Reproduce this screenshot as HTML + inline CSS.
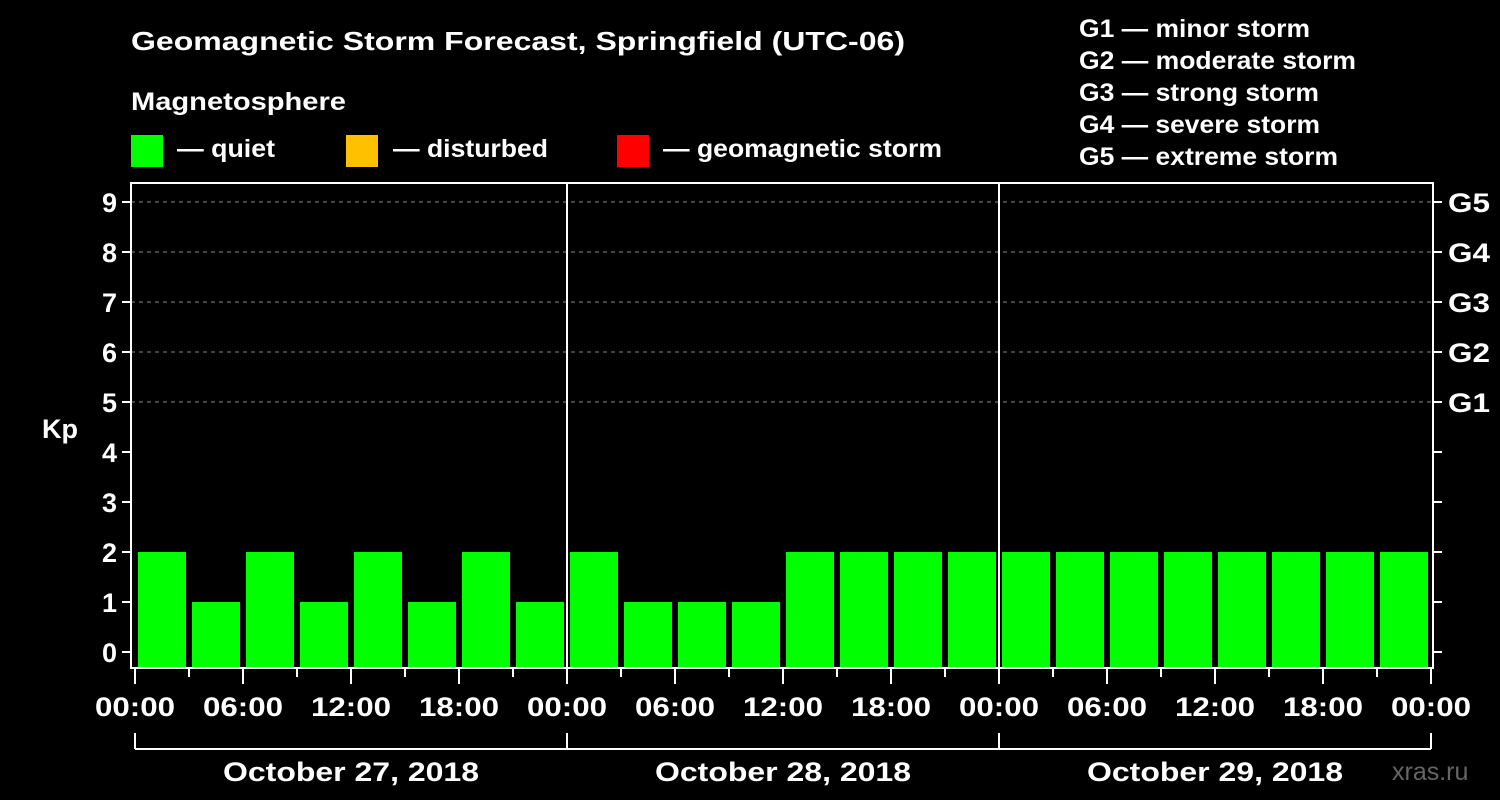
<!DOCTYPE html>
<html><head><meta charset="utf-8"><style>
html,body{margin:0;padding:0;background:#000;}
svg{display:block;font-family:"Liberation Sans",Arial,sans-serif;font-weight:bold;}
</style></head><body>
<svg id="chart" width="1500" height="800" viewBox="0 0 1500 800" xmlns="http://www.w3.org/2000/svg">
<rect width="1500" height="800" fill="#000"/>
<text x="131" y="50" fill="#fff" font-size="26" textLength="774" lengthAdjust="spacingAndGlyphs">Geomagnetic Storm Forecast, Springfield (UTC-06)</text>
<text x="131" y="110" fill="#fff" font-size="25" textLength="215" lengthAdjust="spacingAndGlyphs">Magnetosphere</text>
<g>
<rect x="131" y="135" width="32" height="32" fill="#00ff00"/>
<text x="177" y="157" fill="#fff" font-size="25" textLength="98" lengthAdjust="spacingAndGlyphs">— quiet</text>
<rect x="346" y="135" width="32" height="32" fill="#ffc000"/>
<text x="393" y="157" fill="#fff" font-size="25" textLength="155" lengthAdjust="spacingAndGlyphs">— disturbed</text>
<rect x="617" y="135" width="32" height="32" fill="#ff0000"/>
<text x="663" y="157" fill="#fff" font-size="25" textLength="279" lengthAdjust="spacingAndGlyphs">— geomagnetic storm</text>
</g>
<g fill="#fff" font-size="25">
<text x="1079" y="37" textLength="231" lengthAdjust="spacingAndGlyphs">G1 — minor storm</text>
<text x="1079" y="69" textLength="277" lengthAdjust="spacingAndGlyphs">G2 — moderate storm</text>
<text x="1079" y="101" textLength="240" lengthAdjust="spacingAndGlyphs">G3 — strong storm</text>
<text x="1079" y="133" textLength="241" lengthAdjust="spacingAndGlyphs">G4 — severe storm</text>
<text x="1079" y="165" textLength="259" lengthAdjust="spacingAndGlyphs">G5 — extreme storm</text>
</g>
<text x="42" y="438" fill="#fff" font-size="27">Kp</text>
<g id="grid"></g><g id="bars"></g><g id="axes"></g>
<text x="1392" y="780" fill="#666" font-size="25" font-weight="normal">xras.ru</text>
</svg>
<script>
const kpValues = [2,1,2,1,2,1,2,1, 2,1,1,1,2,2,2,2, 2,2,2,2,2,2,2,2];
const dayLabels = ["October 27, 2018","October 28, 2018","October 29, 2018"];
const hourLabels = ["00:00","06:00","12:00","18:00"];
const gLabels = ["G1","G2","G3","G4","G5"];
const kpTicks = [0,1,2,3,4,5,6,7,8,9];

(function(){
const NS="http://www.w3.org/2000/svg";
const x0=135, slotW=54, pLeft=131, pRight=1433, pTop=183, pBottom=668;
function xScale(i){return x0+i*slotW;}
function yScale(v){return 652-v*50;}
function mk(tag,attrs,parent){const e=document.createElementNS(NS,tag);for(const k in attrs)e.setAttribute(k,attrs[k]);parent.appendChild(e);return e;}
const grid=document.getElementById('grid'),bars=document.getElementById('bars'),axes=document.getElementById('axes');

kpTicks.forEach(v=>{
  const y=yScale(v);
  if(v>=5){const l=mk('line',{x1:pLeft,x2:pRight,y1:y,y2:y,stroke:'#888','stroke-dasharray':'4,4','stroke-width':1},grid);
    
    }
  const t=mk('line',{x1:pLeft-9,x2:pLeft,y1:y,y2:y,stroke:'#fff','stroke-width':2},axes);
  
  
  const t2=mk('line',{x1:pRight,x2:pRight+9,y1:y,y2:y,stroke:'#fff','stroke-width':2},axes);
  
  
  const tx=mk('text',{x:pLeft-14,y:y+10,fill:'#fff','font-size':27,'text-anchor':'end'},axes);
  tx.textContent=v;
  
  
  if(v>=5){const g=mk('text',{x:1448,y:y+10,fill:'#fff','font-size':27,textLength:42,lengthAdjust:'spacingAndGlyphs'},axes);
    g.textContent=gLabels[v-5];
    
    }
});

kpValues.forEach((v,i)=>{
  const r=mk('rect',{x:xScale(i)+3,y:yScale(v),width:48,height:pBottom-yScale(v),fill:'#00ff00'},bars);
  
  
});

mk('rect',{x:pLeft,y:pTop,width:pRight-pLeft,height:pBottom-pTop,fill:'none',stroke:'#fff','stroke-width':2},axes);
for(let d=1;d<dayLabels.length;d++){
  const l=mk('line',{x1:xScale(d*8),x2:xScale(d*8),y1:pTop,y2:pBottom,stroke:'#fff','stroke-width':2},axes);
  
  
}
for(let i=0;i<=kpValues.length;i++){
  const major=i%2===0;
  const l=mk('line',{x1:xScale(i),x2:xScale(i),y1:pBottom,y2:pBottom+(major?16:9),stroke:'#fff','stroke-width':2},axes);
  
  
  if(major){const t=mk('text',{x:xScale(i),y:716,fill:'#fff','font-size':27,'text-anchor':'middle',textLength:80,lengthAdjust:'spacingAndGlyphs'},axes);
    t.textContent=hourLabels[(i/2)%4];
    
    }
}
const br=mk('line',{x1:xScale(0),x2:xScale(kpValues.length),y1:749,y2:749,stroke:'#fff','stroke-width':2},axes);


for(let d=0;d<=dayLabels.length;d++){
  const l=mk('line',{x1:xScale(d*8),x2:xScale(d*8),y1:733,y2:749,stroke:'#fff','stroke-width':2},axes);
  
  
}
dayLabels.forEach((s,d)=>{
  const t=mk('text',{x:xScale(d*8+4),y:781,fill:'#fff','font-size':27,'text-anchor':'middle',textLength:256,lengthAdjust:'spacingAndGlyphs'},axes);
  t.textContent=s;
  
  
});
})();
</script>
</body></html>
